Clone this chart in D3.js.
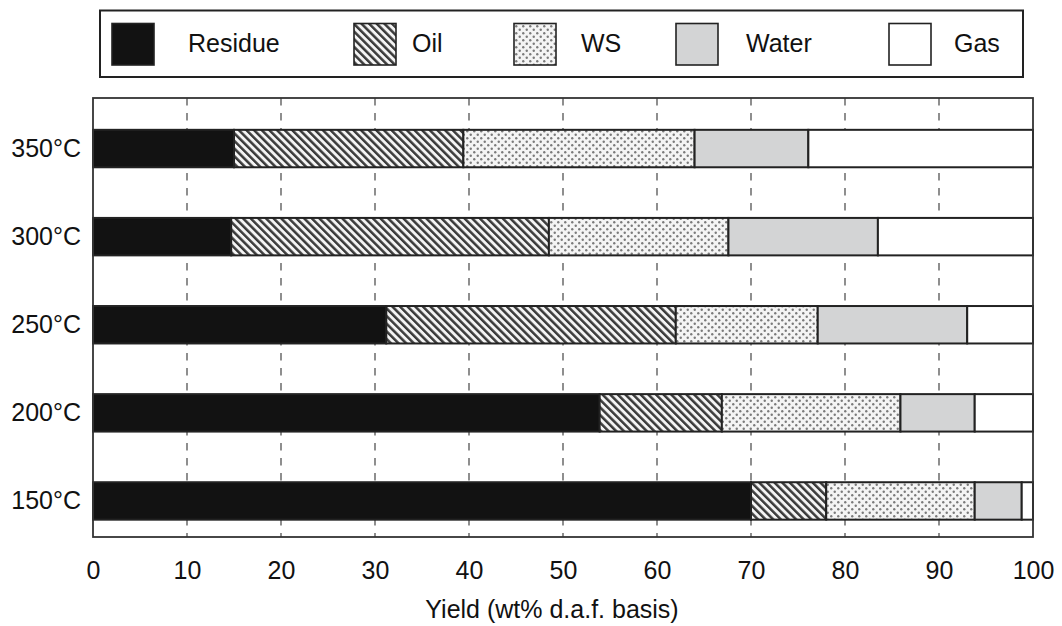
<!DOCTYPE html>
<html>
<head>
<meta charset="utf-8">
<script src="https://cdn.jsdelivr.net/npm/d3@7"></script>
<style>
  html, body { margin: 0; padding: 0; background: #fff; }
  svg { display: block; font-family: "Liberation Sans", Arial, Helvetica, sans-serif; }
</style>
</head>
<body>
<svg id="chart" width="1062" height="626"></svg>
<script>
// Product yields (wt% d.a.f.) at each liquefaction temperature
const temperatures = ["350°C", "300°C", "250°C", "200°C", "150°C"];
const residue = [15.0, 14.7, 31.2, 53.9, 70.0];
const oil     = [24.4, 33.8, 30.8, 13.0, 8.0];
const ws      = [24.6, 19.1, 15.1, 19.0, 15.8];
const water   = [12.1, 15.9, 15.9, 7.9, 5.0];
const gas     = [23.9, 16.5, 7.0, 6.2, 1.2];
const components = ["Residue", "Oil", "WS", "Water", "Gas"];
const xTicks = [0, 10, 20, 30, 40, 50, 60, 70, 80, 90, 100];
const xTitle = "Yield (wt% d.a.f. basis)";

const series = [residue, oil, ws, water, gas];
const rows = temperatures.map((t, i) => {
  const r = { temp: t };
  components.forEach((c, k) => { r[c] = series[k][i]; });
  return r;
});

const svg = d3.select("#chart");
const plot = { left: 93, right: 1033, top: 98, bottom: 537 };
const fontSize = 25;

// patterns
const defs = svg.append("defs");
const stripe = defs.append("pattern")
  .attr("id", "pat-oil").attr("patternUnits", "userSpaceOnUse")
  .attr("width", 5.4).attr("height", 10)
  .attr("patternTransform", "rotate(-45)");
stripe.append("rect").attr("width", 5.4).attr("height", 10).attr("fill", "#f4f4f4");
stripe.append("rect").attr("width", 2.5).attr("height", 10).attr("fill", "#3a3a3a");

const dots = defs.append("pattern")
  .attr("id", "pat-ws").attr("patternUnits", "userSpaceOnUse")
  .attr("width", 7).attr("height", 7);
dots.append("rect").attr("width", 7).attr("height", 7).attr("fill", "#f4f4f4");
dots.append("circle").attr("cx", 1.75).attr("cy", 1.75).attr("r", 1.2).attr("fill", "#7a7a7a");
dots.append("circle").attr("cx", 5.25).attr("cy", 5.25).attr("r", 1.2).attr("fill", "#7a7a7a");

const fills = {
  Residue: "#121212",
  Oil: "url(#pat-oil)",
  WS: "url(#pat-ws)",
  Water: "#d3d4d5",
  Gas: "#ffffff"
};

const x = d3.scaleLinear().domain([0, 100]).range([plot.left, plot.right]);
const y = d3.scaleBand().domain(temperatures).range([104.5, 545])
  .paddingInner(0.575).paddingOuter(0.2875);

// dashed vertical gridlines
svg.append("g").selectAll("line")
  .data(xTicks.filter(d => d > 0 && d < 100))
  .join("line")
  .attr("x1", d => x(d)).attr("x2", d => x(d))
  .attr("y1", plot.top).attr("y2", plot.bottom)
  .attr("stroke", "#333").attr("stroke-width", 1.1)
  .attr("stroke-dasharray", "7.5,7.5");

// stacked bars
const stacked = d3.stack().keys(components)(rows);
svg.append("g").selectAll("g")
  .data(stacked)
  .join("g")
  .attr("fill", d => fills[d.key])
  .selectAll("rect")
  .data(d => d)
  .join("rect")
  .attr("x", d => x(d[0]))
  .attr("width", d => x(d[1]) - x(d[0]))
  .attr("y", d => y(d.data.temp))
  .attr("height", y.bandwidth())
  .attr("stroke", "#222").attr("stroke-width", 2);

// plot frame
svg.append("rect")
  .attr("x", plot.left).attr("y", plot.top)
  .attr("width", plot.right - plot.left).attr("height", plot.bottom - plot.top)
  .attr("fill", "none").attr("stroke", "#333").attr("stroke-width", 1.8);

// x axis labels
const xAxis = svg.append("g")
  .attr("transform", `translate(0,${plot.bottom})`)
  .call(d3.axisBottom(x).tickValues(xTicks).tickSize(0).tickPadding(24));
xAxis.select(".domain").remove();
xAxis.selectAll("text").attr("font-size", fontSize).attr("fill", "#111")
  .attr("font-family", "Liberation Sans, Arial, sans-serif");

// y axis labels
const yAxis = svg.append("g")
  .attr("transform", `translate(${plot.left},0)`)
  .call(d3.axisLeft(y).tickSize(0).tickPadding(12));
yAxis.select(".domain").remove();
yAxis.selectAll("text").attr("font-size", fontSize).attr("fill", "#111")
  .attr("font-family", "Liberation Sans, Arial, sans-serif");

// axis title
svg.append("text")
  .attr("x", 552).attr("y", 618)
  .attr("text-anchor", "middle").attr("font-size", fontSize).attr("fill", "#111")
  .text(xTitle);

// legend
const legend = svg.append("g");
legend.append("rect")
  .attr("x", 100).attr("y", 10.5).attr("width", 923).attr("height", 66.5)
  .attr("fill", "#fff").attr("stroke", "#222").attr("stroke-width", 2);
const legendSwatchX = [112, 354, 514, 676, 889];
const legendTextX = [188, 412, 581, 746, 954];
components.forEach((c, i) => {
  legend.append("rect")
    .attr("x", legendSwatchX[i]).attr("y", 23.5)
    .attr("width", 42).attr("height", 41.5)
    .attr("fill", fills[c]).attr("stroke", "#222").attr("stroke-width", 1.6);
  legend.append("text")
    .attr("x", legendTextX[i]).attr("y", 52)
    .attr("font-size", fontSize).attr("fill", "#111")
    .text(c);
});
</script>
</body>
</html>
